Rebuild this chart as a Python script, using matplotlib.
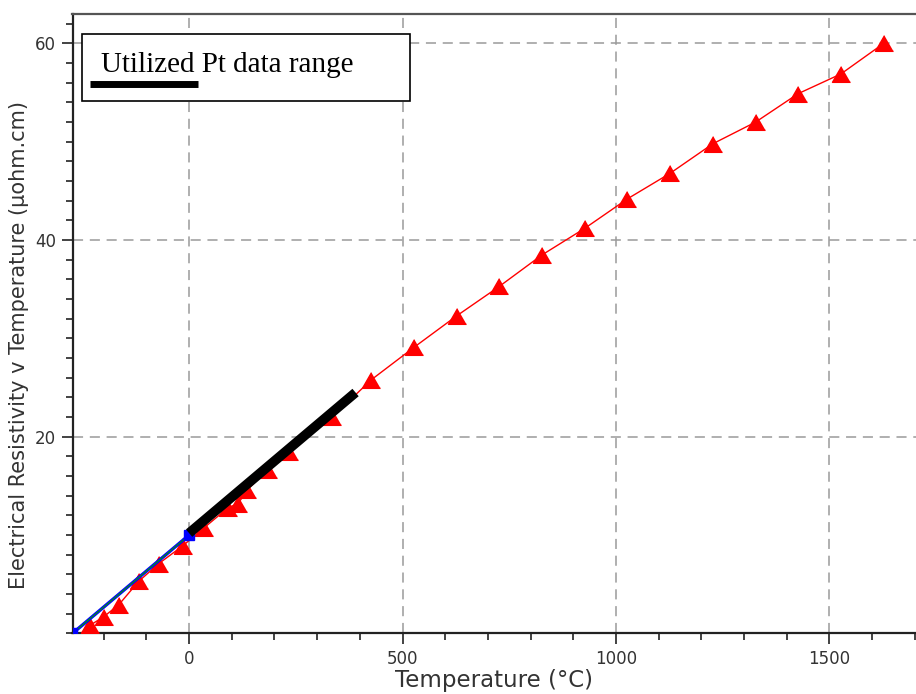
import matplotlib
matplotlib.use("Agg")
import matplotlib.pyplot as plt
from matplotlib.ticker import MultipleLocator
from matplotlib.patches import Rectangle
from matplotlib.lines import Line2D

# Pt resistivity data (red triangles)
pt_temp = [-231, -200, -165, -118, -71, -15, 34, 92, 115, 136, 184, 233, 335,
           427, 527, 627, 727, 827, 927, 1027, 1127, 1227, 1327, 1427, 1527, 1627]
pt_rho = [0.85, 1.7, 2.9, 5.3, 7.1, 8.9, 10.7, 12.8, 13.2, 14.6, 16.6, 18.5, 22.0,
          25.8, 29.1, 32.3, 35.3, 38.5, 41.2, 44.2, 46.8, 49.8, 52.0, 54.9, 56.9, 60.0]

# blue / green low-temperature line
low_temp = [-273.15, 0]
low_rho = [0.0, 10.0]

# utilized data range (thick black line)
used_temp = [0, 390]
used_rho = [10.2, 24.5]

legend_text = "Utilized Pt data range"
xlabel = "Temperature (°C)"
ylabel = "Electrical Resistivity v Temperature (µohm.cm)"

fig = plt.figure(figsize=(9.16, 6.94), dpi=100)
ax = fig.add_axes([72.5 / 916, (694 - 633.4) / 694, 1 - 72.5 / 916, (633.4 - 14) / 694])

tri = [(0, 0.87), (-1, -0.87), (1, -0.87)]
ax.plot(pt_temp, pt_rho, color="red", lw=1.0, zorder=3)
ax.plot(pt_temp, pt_rho, ls="none", marker=tri, ms=13, color="red", mec="red", zorder=3)

ax.plot(low_temp, low_rho, color="blue", lw=2.4, zorder=4)
ax.plot(low_temp, low_rho, color="#00a000", lw=0.8, zorder=4)
ax.plot(low_temp, low_rho, ls="none", marker="s", ms=7.5, color="blue", zorder=4)

ax.plot(used_temp, used_rho, color="black", lw=7, solid_capstyle="butt", zorder=5)

ax.set_xlim(-273.15, 1703)
ax.set_ylim(0, 63)
ax.xaxis.set_major_locator(MultipleLocator(500))
ax.xaxis.set_minor_locator(MultipleLocator(100))
ax.yaxis.set_minor_locator(MultipleLocator(2))
ax.set_yticks([20, 40, 60])

ax.grid(True, which="major", color="#9a9a9a", lw=1.1, ls=(0, (6.6, 4.4)))
ax.set_axisbelow(True)

for s in ["left", "bottom"]:
    ax.spines[s].set_linewidth(1.6)
    ax.spines[s].set_color("#222222")
ax.spines["top"].set_linewidth(1.6)
ax.spines["top"].set_color("#555555")
ax.spines["right"].set_visible(False)

ax.tick_params(which="major", direction="out", length=8, width=1.2, labelsize=12, colors="#222222", pad=4)
ax.tick_params(which="minor", direction="out", length=5, width=1.2, colors="#222222")
ax.tick_params(axis="both", labelcolor="#333333")

ax.set_xlabel(xlabel, fontsize=16.5, color="#333333", labelpad=1)
ax.set_ylabel(ylabel, fontsize=15, color="#333333")
ax.yaxis.set_label_coords(-0.052, 0.4656)

# legend box
fig.patches.append(Rectangle((81.7 / 916, 1 - 100.7 / 694), (410 - 81.7) / 916, (100.7 - 34) / 694,
                             transform=fig.transFigure, facecolor="white", edgecolor="black",
                             lw=1.2, zorder=10))
fig.lines.append(Line2D([90 / 916, 198 / 916], [1 - 83.5 / 694, 1 - 83.5 / 694], transform=fig.transFigure,
                        color="black", lw=5, solid_capstyle="butt", zorder=11))
fig.text(101 / 916, 1 - 72 / 694, legend_text, family="Liberation Serif", fontsize=21,
         va="baseline", ha="left", zorder=12)

fig.savefig("out.png", dpi=100)
